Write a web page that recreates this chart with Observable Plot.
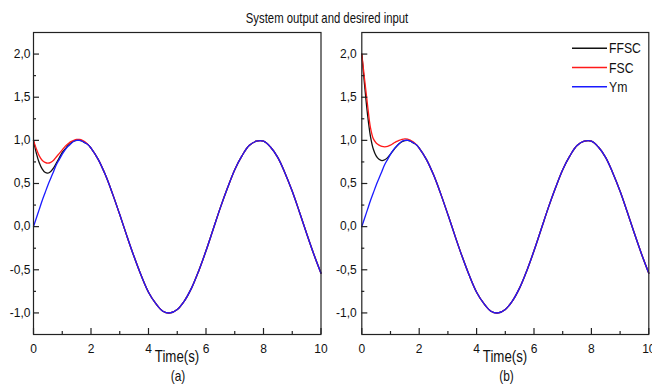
<!DOCTYPE html>
<html><head><meta charset="utf-8">
<script src="https://cdn.jsdelivr.net/npm/d3@7"></script>
<script src="https://cdn.jsdelivr.net/npm/@observablehq/plot@0.6"></script>
<style>
body{margin:0;background:#fff;}
#wrap{position:relative;width:652px;height:385px;overflow:hidden;background:#fff;}
#wrap > svg{position:absolute;top:0;overflow:visible;}
</style></head><body>
<div id="wrap"></div>
<script>
// ---- data ----
const time = [0,0.1,0.2,0.3,0.4,0.5,0.6,0.7,0.8,0.9,1.0,1.1,1.2,1.3,1.4,1.5,1.6,1.7,1.8,1.9,2.0,
  2.25,2.5,2.75,3.0,3.25,3.5,3.75,4.0,4.25,4.5,4.75,5.0,5.25,5.5,5.75,6.0,6.25,6.5,6.75,7.0,
  7.25,7.5,7.75,8.0,8.25,8.5,8.75,9.0,9.25,9.5,9.75,10.0];
const ym = [0.00,0.10,0.20,0.30,0.39,0.48,0.56,0.64,0.72,0.78,0.84,0.89,0.93,0.96,0.99,1.00,1.00,0.99,0.97,0.95,0.91,
  0.78,0.60,0.38,0.14,-0.11,-0.35,-0.57,-0.76,-0.89,-0.98,-1.00,-0.96,-0.86,-0.71,-0.51,-0.28,-0.03,0.22,0.45,0.66,
  0.82,0.94,0.99,0.99,0.92,0.80,0.62,0.41,0.17,-0.08,-0.32,-0.54];
// transient part (t = 0 .. 2 s); afterwards the outputs coincide with Ym
const ffscA = [1.00,0.85,0.74,0.67,0.63,0.62,0.64,0.68,0.74,0.80,0.86,0.90,0.94,0.97,0.99,1.00,1.00,0.99,0.97,0.95,0.91];
const fscA  = [1.00,0.90,0.82,0.77,0.745,0.735,0.745,0.77,0.81,0.85,0.89,0.93,0.96,0.985,1.00,1.01,1.01,1.00,0.98,0.95,0.91];
const ffscB = [2.00,1.63,1.30,1.05,0.90,0.82,0.78,0.765,0.775,0.80,0.84,0.885,0.925,0.96,0.985,0.997,1.00,0.99,0.97,0.95,0.91];
const fscB  = [2.00,1.70,1.41,1.15,1.02,0.97,0.945,0.93,0.925,0.93,0.945,0.965,0.985,1.00,1.012,1.018,1.015,1.00,0.98,0.95,0.91];

const seriesNames = ["FFSC","FSC","Ym"];
const seriesColors = ["#111111","#ff1a1a","#1a1aff"];
const xMajor = [0,2,4,6,8,10];
const xMinor = [1,3,5,7,9];
const xTickLabels = ["0","2","4","6","8","10"];
const yMajor = [-1,-0.5,0,0.5,1,1.5,2];
const yMinor = [-0.75,-0.25,0.25,0.75,1.25,1.75];
const yTickLabels = ["-1,0","-0,5","0,0","0,5","1,0","1,5","2,0"];
const panelLabels = ["(a)","(b)"];
const titleText = "System output and desired input";
const xLabel = "Time(s)";

const FONT = '"Liberation Sans", Arial, sans-serif';
const W = 326, H = 385, MT = 32, MB = 51;

function panel(ffsc, fsc, ml, mr, pad) {
  const sets = [ffsc, fsc, null];
  const rows = [];
  seriesNames.forEach((name, k) => {
    time.forEach((t, i) => {
      const s = sets[k];
      rows.push({name, t, v: s && i < s.length ? s[i] : ym[i]});
    });
  });
  const iw = W - ml - mr, ih = H - MT - MB;
  return Plot.plot({
    width: W, height: H, marginLeft: ml, marginRight: mr, marginTop: MT, marginBottom: MB,
    x: {domain: [0, 10]},
    y: {domain: [-1.25, 2.25]},
    color: {domain: seriesNames, range: seriesColors},
    style: {fontFamily: FONT, fontSize: "12px", color: "#111", background: "transparent", overflow: "visible"},
    marks: [
      Plot.lineY(rows, {x: "t", y: "v", z: "name", stroke: "name", strokeWidth: 1.3, curve: "catmull-rom"}),
      Plot.tickX(xMajor, {x: d => d, insetTop: ih - 6, stroke: "#222", strokeWidth: 1.2}),
      Plot.tickX(xMinor, {x: d => d, insetTop: ih - 3, stroke: "#222", strokeWidth: 1.2}),
      Plot.tickY(yMajor, {y: d => d, insetRight: iw - 6, stroke: "#222", strokeWidth: 1.2}),
      Plot.tickY(yMinor, {y: d => d, insetRight: iw - 3, stroke: "#222", strokeWidth: 1.2}),
      Plot.frame({stroke: "#222", strokeWidth: 1.2}),
      Plot.axisX({ticks: xMajor, tickFormat: d => xTickLabels[xMajor.indexOf(d)], tickSize: 0, tickPadding: 10, label: null, fill: "#111"}),
      Plot.axisY({ticks: yMajor, tickFormat: d => yTickLabels[yMajor.indexOf(d)], tickSize: 0, tickPadding: pad, label: null, fill: "#111"})
    ]
  });
}

const wrap = document.getElementById("wrap");
const left = panel(ffscA, fscA, 33, 5.5, 3);
left.style.left = "0px";
wrap.appendChild(left);
const right = panel(ffscB, fscB, 35.3, 3.7, 5);
right.style.left = "326px";
wrap.appendChild(right);

// overlay text: title, axis labels, panel labels, legend
const ov = d3.select(wrap).append("svg")
  .attr("width", 652).attr("height", 385)
  .style("left", "0px").style("font-family", FONT).style("fill", "#111");

function txt(str, x, y, size, sx, anchor) {
  ov.append("text").attr("transform", `translate(${x},${y}) scale(${sx},1)`)
    .attr("text-anchor", anchor || "middle").attr("font-size", size).text(str);
}
txt(titleText, 327, 23, 14, 0.81);
txt(xLabel, 177, 362, 16, 0.83);
txt(xLabel, 505, 362, 16, 0.83);
txt(panelLabels[0], 178, 380.5, 14, 0.85);
txt(panelLabels[1], 506.5, 380.5, 14, 0.85);

const legY = [48.3, 67.5, 86.7];
seriesNames.forEach((name, k) => {
  ov.append("line").attr("x1", 572).attr("x2", 607).attr("y1", legY[k]).attr("y2", legY[k])
    .attr("stroke", seriesColors[k]).attr("stroke-width", 1.4);
  txt(name, 609, legY[k] + 5, 14, 0.875, "start");
});
</script>
</body></html>
